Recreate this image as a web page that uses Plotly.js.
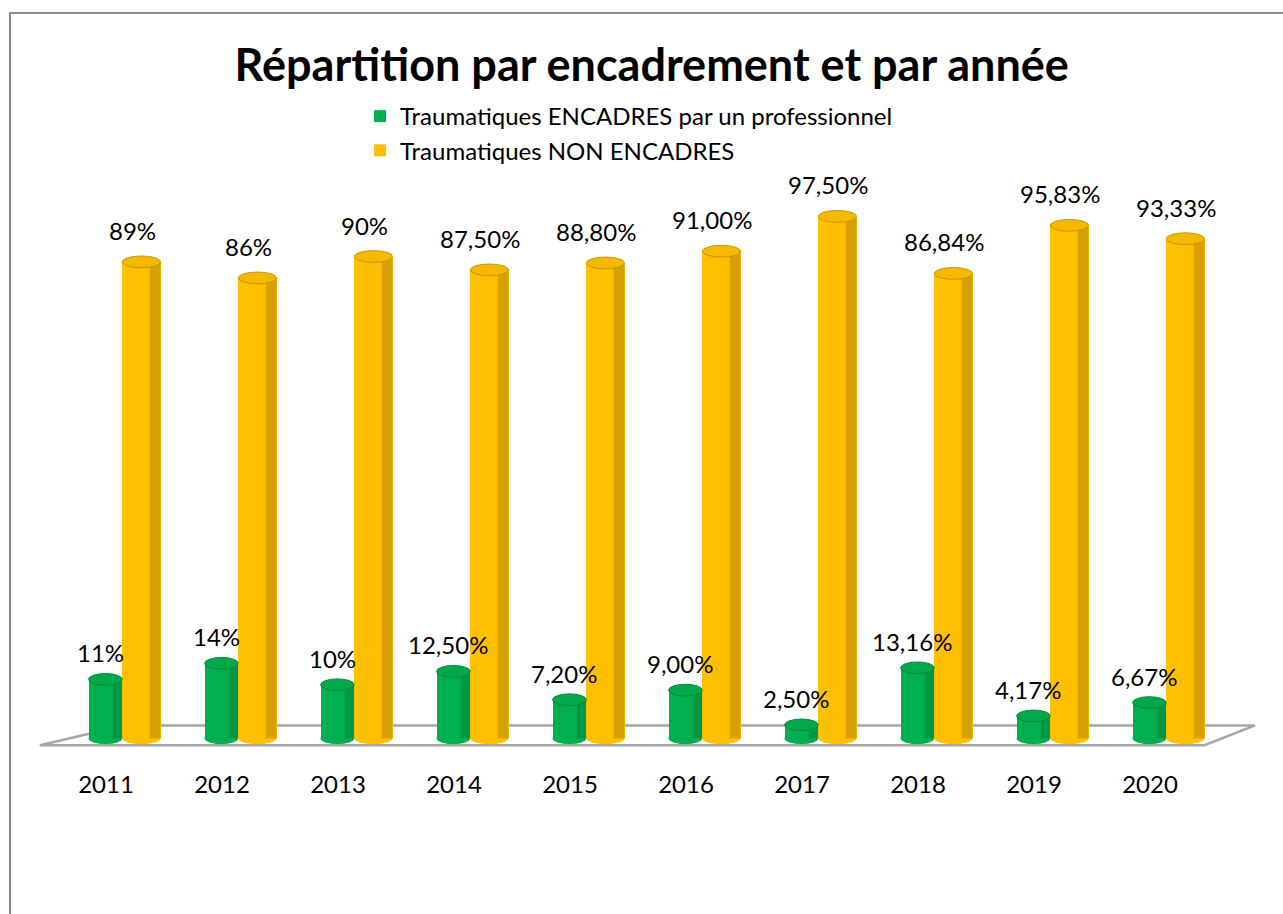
<!DOCTYPE html>
<html>
<head>
<meta charset="utf-8">
<script src="https://cdn.plot.ly/plotly-3.0.1.min.js"></script>
<style>
  html, body { margin: 0; padding: 0; background: #fff; overflow: hidden; }
  #chart { position: absolute; left: 0; top: 0; width: 1283px; height: 914px; }
  #frame { position: absolute; left: 9px; top: 12px; width: 1400px; height: 1000px;
           border-left: 2px solid #8c8c8c; border-top: 2px solid #8c8c8c; pointer-events: none; }
</style>
</head>
<body>
<div id="chart"></div>
<div id="frame"></div>
<script>
var years = ['2011', '2012', '2013', '2014', '2015', '2016', '2017', '2018', '2019', '2020'];
var encadres = [11, 14, 10, 12.5, 7.2, 9, 2.5, 13.16, 4.17, 6.67];
var encadresLabels = ['11%', '14%', '10%', '12,50%', '7,20%', '9,00%', '2,50%', '13,16%', '4,17%', '6,67%'];
var nonEncadres = [89, 86, 90, 87.5, 88.8, 91, 97.5, 86.84, 95.83, 93.33];
var nonEncadresLabels = ['89%', '86%', '90%', '87,50%', '88,80%', '91,00%', '97,50%', '86,84%', '95,83%', '93,33%'];

var font = 'Lato, Carlito, "Open Sans", sans-serif';

// bar placement inside each category slot
var gOff = -0.15, gW = 0.29
var yOff = 0.14, yW = 0.33

var trace1 = {
    x: years,
    y: encadres,
    name: 'Traumatiques ENCADRES par un professionnel',
    type: 'bar',
    offset: gOff,
    width: gW,
    marker: {color: '#00b050', line: {width: 0}},
    hoverinfo: 'x+y'
}
var trace2 = {
    x: years,
    y: nonEncadres,
    name: 'Traumatiques NON ENCADRES',
    type: 'bar',
    offset: yOff,
    width: yW,
    marker: {color: '#ffc000', line: {width: 0}},
    hoverinfo: 'x+y'
}

// perspective floor (decoration)
var shapes = [{
    type: 'path',
    xref: 'paper', yref: 'y',
    path: 'M -0.007,-1.3 L 0.066,2.4 L 1.0405,2.4 L 0.997,-1.3 Z',
    line: {color: '#a6a6a6', width: 2.5},
    fillcolor: 'rgba(255,255,255,0)',
    layer: 'below'
}]

// cylinder look: rounded bottom, shaded right side, elliptic top
function cylinder(vals, off, w, body, shade, top, edge) {
    for (var i = 0; i < vals.length; i++) {
        var x0 = i + off, x1 = i + off + w
        shapes.push({type: 'circle', xref: 'x', yref: 'y', x0: x0, x1: x1, y0: -1.1, y1: 1.1,
            fillcolor: body, line: {width: 0}, layer: 'below'})
        shapes.push({type: 'rect', xref: 'x', yref: 'y', x0: x1 - w * 0.28, x1: x1, y0: 0, y1: vals[i],
            fillcolor: shade, line: {width: 0}, layer: 'above'})
        shapes.push({type: 'circle', xref: 'x', yref: 'y', x0: x0, x1: x1, y0: vals[i] - 1.1, y1: vals[i] + 1.1,
            fillcolor: top, line: {color: edge, width: 1}, layer: 'above'})
    }
}
cylinder(encadres, gOff, gW, '#00b050', 'rgba(0,70,25,0.22)', '#00a84a', '#008a3c')
cylinder(nonEncadres, yOff, yW, '#ffc000', 'rgba(110,75,0,0.28)', '#f5b900', '#c99600')

// value labels (x given as category index)
var annotations = []
for (var i = 0; i < years.length; i++) {
    annotations.push({xref: 'x', yref: 'y', x: i, y: encadres[i], text: encadresLabels[i], showarrow: false,
        xanchor: 'center', yanchor: 'bottom', xshift: -6, yshift: 10, font: {size: 24, family: font, color: '#000'}})
    annotations.push({xref: 'x', yref: 'y', x: i, y: nonEncadres[i], text: nonEncadresLabels[i], showarrow: false,
        xanchor: 'center', yanchor: 'bottom', xshift: 26, yshift: 15, font: {size: 24, family: font, color: '#000'}})
}

var layout = {
    width: 1283,
    height: 914,
    margin: {l: 48, r: 75, t: 203, b: 165},
    paper_bgcolor: 'rgba(0,0,0,0)',
    plot_bgcolor: 'rgba(0,0,0,0)',
    font: {family: font, color: '#000'},
    title: {
        text: '<b>Répartition par encadrement et par année</b>',
        font: {size: 45, family: font, color: '#000'},
        x: 0.508, xanchor: 'center',
        y: 0.929, yanchor: 'middle'
    },
    showlegend: true,
    legend: {
        x: 0.269, xanchor: 'left',
        y: 1.1996, yanchor: 'top',
        orientation: 'v',
        font: {size: 24, family: font},
        itemwidth: 30,
        tracegroupgap: 0,
        bgcolor: 'rgba(0,0,0,0)'
    },
    bargap: 0,
    xaxis: {
        type: 'category',
        range: [-0.5, 9.5],
        showgrid: false,
        zeroline: false,
        showline: false,
        ticks: '',
        ticklabelstandoff: 19,
        tickfont: {size: 24, family: font}
    },
    yaxis: {
        range: [-2, 100],
        showgrid: false,
        zeroline: false,
        showline: false,
        showticklabels: false,
        ticks: ''
    },
    shapes: shapes,
    annotations: annotations
}

Plotly.newPlot('chart', [trace1, trace2], layout, {displayModeBar: false, staticPlot: true});
</script>
</body>
</html>
